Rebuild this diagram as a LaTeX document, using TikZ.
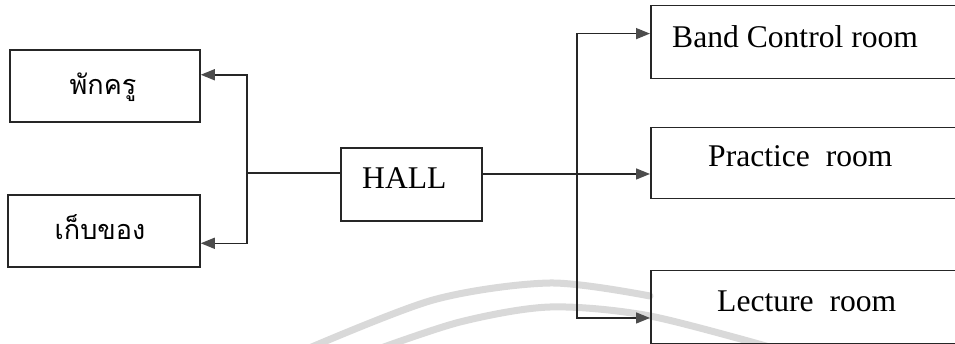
\documentclass[tikz,border=0pt]{standalone}
\usepackage{fontspec}
\setmainfont{Liberation Serif}
\newfontfamily\thaifont[Script=Thai]{Loma}
\usetikzlibrary{arrows.meta,calc}
\tikzset{
  box/.style={draw=black!85, line width=1.5pt, rectangle, inner sep=0pt},
  lbl/.style={inner sep=0pt, font=\fontsize{31.6}{36}\selectfont},
  tlbl/.style={inner sep=0pt, font=\thaifont\fontsize{27}{32}\selectfont},
  conn/.style={draw=black!85, line width=1.5pt},
  arr/.style={conn, -{Triangle[length=14pt,width=11pt,fill=black!70,color=black!70]}},
  wm/.style={draw=black!15, line width=7pt, line cap=round}
}
\begin{document}
\begin{tikzpicture}[x=1pt,y=-1pt]
\useasboundingbox (0,0) rectangle (955,344);
\clip (0,0) rectangle (955,344);
% watermark arcs
\draw[wm] plot[smooth] coordinates {(300,352) (433,300) (550,283) (650,296)};
\draw[wm] plot[smooth] coordinates {(370,352) (460,322) (550,307) (650,316) (780,350)};
% boxes
\node[box, minimum width=190, minimum height=72] (pak) at (105,86) {};
\node[box, minimum width=192, minimum height=72] (keb) at (104,231) {};
\node[box, minimum width=141, minimum height=73] (hall) at (411.5,184.5) {};
\node[box, anchor=north west, minimum width=400, minimum height=73] (band) at (650,5) {};
\node[box, anchor=north west, minimum width=400, minimum height=71] (prac) at (650,127) {};
\node[box, anchor=north west, minimum width=400, minimum height=73] (lect) at (650,270) {};
% labels
\node[tlbl, anchor=base] (pakt) at (103,95) {พักครู};
\node[tlbl, anchor=base] (kebt) at (100,240) {เก็บของ};
\node[lbl, anchor=base west] (hallt) at (362,189) {HALL};
\node[lbl, anchor=base west] (bandt) at (672,48) {Band Control room};
\node[lbl, anchor=base west] (pract) at (708,167) {Practice\ \ room};
\node[lbl, anchor=base west] (lectt) at (717,312) {Lecture\ \ room};
% connectors left
\coordinate (jl) at (247,173);
\coordinate (pakin) at ($(pak.north east)!0.347!(pak.south east)$);
\coordinate (kebin) at ($(keb.north east)!0.667!(keb.south east)$);
\draw[conn] (hall.west |- jl) -- (jl);
\draw[arr] (jl) |- (pakin);
\draw[arr] (jl) |- (kebin);
% connectors right
\coordinate (jr) at (577,173);
\coordinate (bandin) at ($(band.north west)!0.384!(band.south west)$);
\coordinate (pracin) at ($(prac.north west)!0.648!(prac.south west)$);
\coordinate (lectin) at ($(lect.north west)!0.644!(lect.south west)$);
\draw[arr] (hall.east |- pracin) -- (pracin);
\draw[arr] (jr) |- (bandin);
\draw[arr] (jr) |- (lectin);
\end{tikzpicture}
\end{document}
